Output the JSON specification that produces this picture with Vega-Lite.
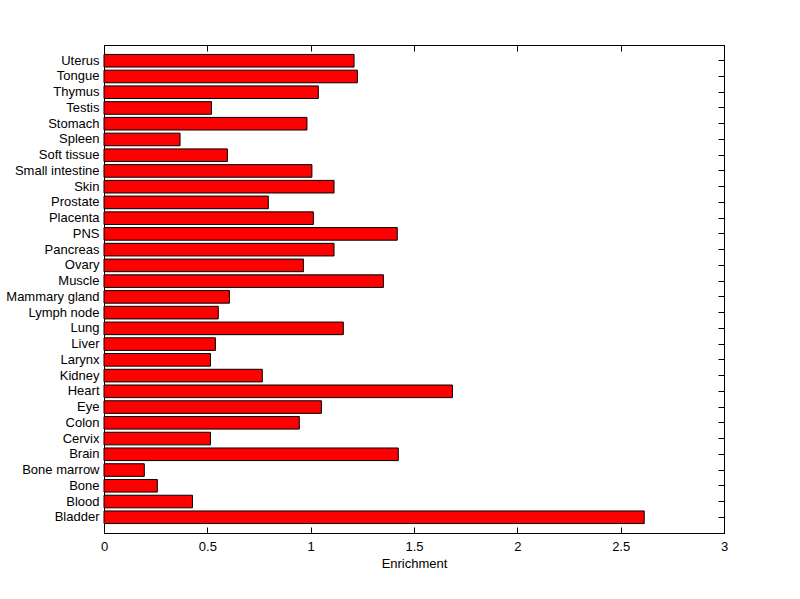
{
  "$schema": "https://vega.github.io/schema/vega-lite/v6.json",
  "width": 620,
  "height": 488,
  "autosize": {"type": "none"},
  "padding": {"left": 104, "top": 45, "right": 76, "bottom": 66},
  "background": "white",
  "config": {
    "font": "Liberation Sans",
    "view": {"stroke": "black", "strokeWidth": 1},
    "axis": {
      "grid": false,
      "domainColor": "black",
      "tickColor": "black",
      "labelColor": "black",
      "titleColor": "black",
      "labelFontSize": 13,
      "titleFontSize": 13,
      "titleFontWeight": "normal",
      "tickSize": -6,
      "domainWidth": 1,
      "tickWidth": 1,
      "labelFlush": false
    }
  },
  "data": {
    "values": [
      {"tissue": "Uterus", "enrichment": 1.210},
      {"tissue": "Tongue", "enrichment": 1.226},
      {"tissue": "Thymus", "enrichment": 1.037},
      {"tissue": "Testis", "enrichment": 0.520},
      {"tissue": "Stomach", "enrichment": 0.982},
      {"tissue": "Spleen", "enrichment": 0.368},
      {"tissue": "Soft tissue", "enrichment": 0.597},
      {"tissue": "Small intestine", "enrichment": 1.006},
      {"tissue": "Skin", "enrichment": 1.113},
      {"tissue": "Prostate", "enrichment": 0.795},
      {"tissue": "Placenta", "enrichment": 1.013},
      {"tissue": "PNS", "enrichment": 1.419},
      {"tissue": "Pancreas", "enrichment": 1.113},
      {"tissue": "Ovary", "enrichment": 0.965},
      {"tissue": "Muscle", "enrichment": 1.352},
      {"tissue": "Mammary gland", "enrichment": 0.607},
      {"tissue": "Lymph node", "enrichment": 0.553},
      {"tissue": "Lung", "enrichment": 1.158},
      {"tissue": "Liver", "enrichment": 0.539},
      {"tissue": "Larynx", "enrichment": 0.515},
      {"tissue": "Kidney", "enrichment": 0.766},
      {"tissue": "Heart", "enrichment": 1.686},
      {"tissue": "Eye", "enrichment": 1.052},
      {"tissue": "Colon", "enrichment": 0.945},
      {"tissue": "Cervix", "enrichment": 0.515},
      {"tissue": "Brain", "enrichment": 1.424},
      {"tissue": "Bone marrow", "enrichment": 0.195},
      {"tissue": "Bone", "enrichment": 0.258},
      {"tissue": "Blood", "enrichment": 0.428},
      {"tissue": "Bladder", "enrichment": 2.614}
    ]
  },
  "layer": [
    {
      "mark": {"type": "bar", "color": "#ff0000", "stroke": "black", "strokeWidth": 1},
      "encoding": {
        "y": {
          "field": "tissue", "type": "nominal", "sort": null,
          "scale": {"paddingInner": 0.2, "paddingOuter": 0.6},
          "axis": {"title": null, "orient": "left", "labelPadding": 11}
        },
        "x": {
          "field": "enrichment", "type": "quantitative",
          "scale": {"domain": [0, 3], "nice": false, "zero": true},
          "axis": {"title": "Enrichment", "orient": "bottom", "values": [0, 0.5, 1, 1.5, 2, 2.5, 3], "format": "~g", "labelPadding": 13, "titlePadding": 4}
        }
      }
    },
    {
      "mark": {"type": "bar", "opacity": 0},
      "encoding": {
        "y": {
          "field": "tissue", "type": "nominal", "sort": null,
          "axis": {"title": null, "orient": "right", "labels": false}
        },
        "x": {
          "field": "enrichment", "type": "quantitative",
          "axis": {"title": null, "orient": "top", "values": [0, 0.5, 1, 1.5, 2, 2.5, 3], "labels": false}
        }
      }
    }
  ],
  "resolve": {"axis": {"x": "independent", "y": "independent"}}
}
